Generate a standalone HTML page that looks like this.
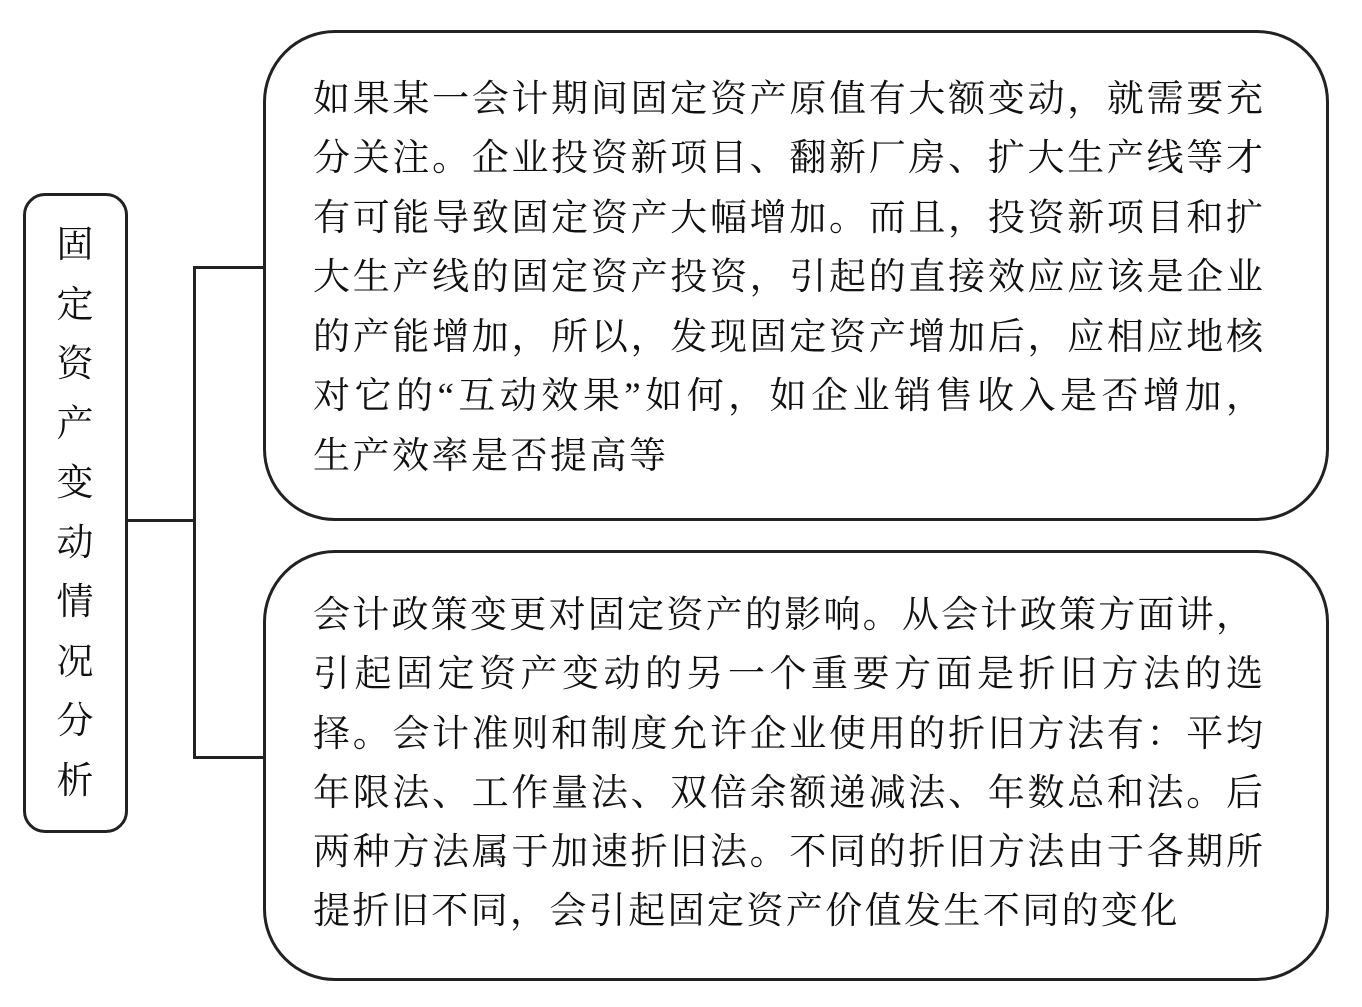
<!DOCTYPE html>
<html><head><meta charset="utf-8"><style>
html,body{margin:0;padding:0;background:#fff;}
body{width:1362px;height:1007px;position:relative;overflow:hidden;font-family:"Liberation Serif","Noto Serif CJK SC",serif;color:#111;}
.box{position:absolute;border:3px solid #222;box-sizing:border-box;background:#fff;}
.ln{position:absolute;background:#222;}
.t{position:absolute;left:313px;width:950px;font-size:37px;line-height:37px;white-space:nowrap;}
.j{text-align:justify;text-align-last:justify;}
.v{position:absolute;left:55px;width:40px;font-size:37px;text-align:center;}
</style></head><body>
<div class="box" style="left:23px;top:193px;width:105px;height:640px;border-radius:22px;"></div>
<div class="ln" style="left:127px;top:519px;width:68px;height:3px;"></div>
<div class="ln" style="left:193px;top:266px;width:3px;height:493px;"></div>
<div class="ln" style="left:193px;top:266px;width:72px;height:3px;"></div>
<div class="ln" style="left:193px;top:756px;width:72px;height:3px;"></div>
<div class="box" style="left:263px;top:30px;width:1066px;height:491px;border-radius:72px;"></div>
<div class="box" style="left:263px;top:550px;width:1066px;height:431px;border-radius:72px;"></div>
<div class="v" style="top:216px;line-height:59.5px;">固<br>定<br>资<br>产<br>变<br>动<br>情<br>况<br>分<br>析</div>
<div class="t j" style="top:81px;">如果某一会计期间固定资产原值有大额变动，就需要充</div>
<div class="t j" style="top:140px;">分关注。企业投资新项目、翻新厂房、扩大生产线等才</div>
<div class="t j" style="top:200px;">有可能导致固定资产大幅增加。而且，投资新项目和扩</div>
<div class="t j" style="top:259px;">大生产线的固定资产投资，引起的直接效应应该是企业</div>
<div class="t j" style="top:319px;">的产能增加，所以，发现固定资产增加后，应相应地核</div>
<div class="t j" style="top:378px;">对它的“互动效果”如何，如企业销售收入是否增加，</div>
<div class="t" style="top:438px;letter-spacing:2.5px;">生产效率是否提高等</div>
<div class="t j" style="top:597px;width:940px;">会计政策变更对固定资产的影响。从会计政策方面讲，</div>
<div class="t j" style="top:656px;">引起固定资产变动的另一个重要方面是折旧方法的选</div>
<div class="t j" style="top:716px;">择。会计准则和制度允许企业使用的折旧方法有：平均</div>
<div class="t j" style="top:775px;">年限法、工作量法、双倍余额递减法、年数总和法。后</div>
<div class="t j" style="top:834px;">两种方法属于加速折旧法。不同的折旧方法由于各期所</div>
<div class="t" style="top:893px;letter-spacing:2.4px;">提折旧不同，会引起固定资产价值发生不同的变化</div>
</body></html>
